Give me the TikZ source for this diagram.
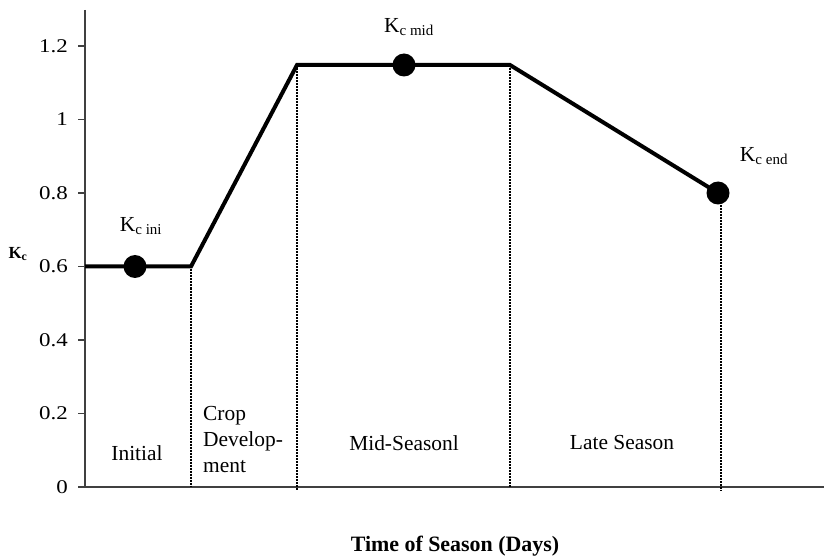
\documentclass[tikz,border=0pt]{standalone}
\usepackage{fontspec}
\setmainfont{Liberation Serif}
\begin{document}
\begin{tikzpicture}[x=1bp,y=-1bp,
  axisline/.style={line width=1.2bp, draw=black!75},
  curve/.style={line width=4bp, line join=miter},
  stageline/.style={line width=1.1bp, dash pattern=on 2bp off 1bp},
  dot/.style={circle, fill=black, inner sep=0pt, minimum size=23bp},
  ticklab/.style={anchor=east, inner sep=0pt, font=\fontsize{19.5}{24}\selectfont},
  lab/.style={inner sep=0pt, font=\fontsize{21.5}{26}\selectfont},
  boldlab/.style={inner sep=0pt, font=\fontsize{22}{26}\selectfont\bfseries}]
\useasboundingbox (0,0) rectangle (824,558);
% axes
\coordinate (ytop) at (85,10);
\coordinate (org) at (85,487);
\coordinate (xleft) at (78,487);
\coordinate (xright) at (824,487);
\draw[axisline] (ytop) -- (org);
\draw[axisline] (xleft) -- (xright);
\foreach \v/\t [count=\i] in {0/0,0.2/0.2,0.4/0.4,0.6/0.6,0.8/0.8,1/1,1.2/1.2}{
  \coordinate (tk\i) at (78,{487-367.5*\v});
  \coordinate (tr\i) at (85,{487-367.5*\v});
  \draw[axisline] (tk\i) -- (tr\i);
  \node[ticklab] (tl\i) at (68,{487-367.5*\v}) {\scalebox{1.18}[1]{\t}};
}
% curve points
\coordinate (p1) at (85,266.5);
\coordinate (p2) at (191,266.5);
\coordinate (p3) at (297,65);
\coordinate (p4) at (510,65);
\coordinate (p5) at (718,193);
% stage dividers
\coordinate (b2) at (191,487);
\coordinate (b3) at (297,490);
\coordinate (b4) at (510,487);
\coordinate (t5) at (721,205);
\coordinate (b5) at (721,491);
\draw[stageline] (p2) -- (b2);
\draw[stageline] (p3) -- (b3);
\draw[stageline] (p4) -- (b4);
\draw[stageline] (t5) -- (b5);
% Kc curve
\draw[curve] (p1) -- (p2) -- (p3) -- (p4) -- (p5);
\node[dot] (dini) at (135,266.5) {};
\node[dot] (dmid) at (404,65) {};
\node[dot] (dend) at (p5) {};
% labels
\node[lab] (kini) at (141,226) {K\textsubscript{c ini}};
\node[lab] (kmid) at (409,27) {K\textsubscript{c mid}};
\node[lab] (kend) at (764,156) {K\textsubscript{c end}};
\node[boldlab, font=\fontsize{17}{20}\selectfont\bfseries] (kc) at (18,254) {K\textsubscript{c}};
\node[lab] (sini) at (137,453) {Initial};
\node[lab, anchor=north west, align=left, font=\fontsize{21.5}{26}\selectfont] (scrop) at (203,406) {Crop\\Develop-\\ment};
\node[lab] (smid) at (404,443) {Mid-Seasonl};
\node[lab] (slate) at (622,443) {Late Season};
\node[boldlab] (xt) at (455,546) {Time of Season (Days)};
\end{tikzpicture}
\end{document}
